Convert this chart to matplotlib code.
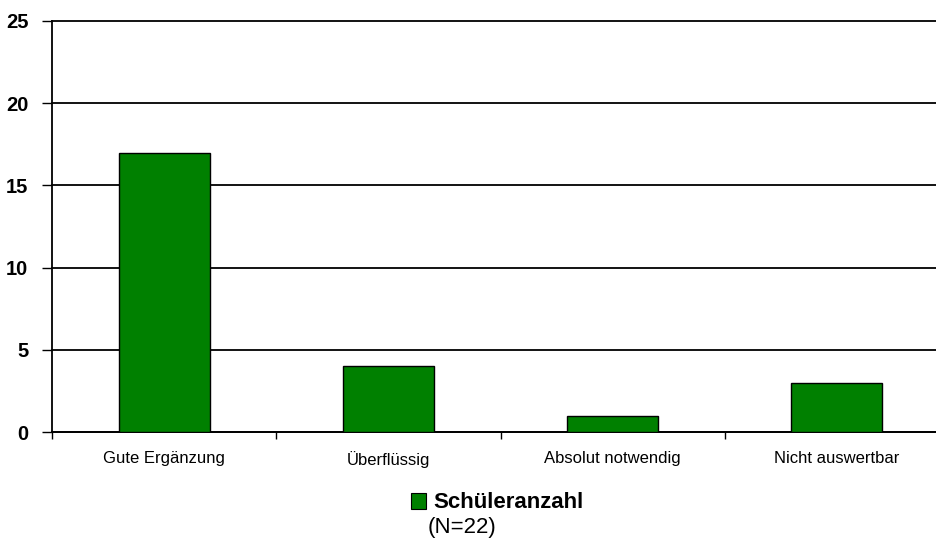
import matplotlib
matplotlib.use("Agg")
import matplotlib.pyplot as plt
from matplotlib.patches import Patch

categories = ["Gute Ergänzung", "Überflüssig", "Absolut notwendig", "Nicht auswertbar"]
values = [17, 4, 1, 3]
yticks = [0, 5, 10, 15, 20, 25]
series_name = "Schüleranzahl"
note = "(N=22)"

plt.rcParams['font.family'] = ['Liberation Sans', 'DejaVu Sans']

fig = plt.figure(figsize=(9.36, 5.4), dpi=100)
W, H = 936, 540
left, right, top, bottom = 52, 949, 21, 432
ax = fig.add_axes([left / W, 1 - bottom / H, (right - left) / W, (bottom - top) / H])

x = list(range(len(categories)))
ax.bar(x, values, width=0.405, color="#008000", edgecolor="black", linewidth=1.0, zorder=3)

ax.set_xlim(-0.5, len(categories) - 0.5)
ax.set_ylim(0, 25)
ax.set_yticks(yticks)
ax.set_yticklabels([str(v) for v in yticks], fontsize=14.5, fontweight="bold")
ax.yaxis.grid(True, color="black", linewidth=1.3, zorder=0)
for gl in ax.get_ygridlines():
    gl.set_clip_on(False)
ax.set_axisbelow(True)

ax.set_xticks([i - 0.5 for i in range(len(categories) + 1)])
ax.set_xticklabels([""] * (len(categories) + 1))
ax.set_xticks(x, minor=True)
ax.set_xticklabels(categories, minor=True, fontsize=12)
ax.tick_params(axis="x", which="minor", length=0, pad=14)
ax.tick_params(axis="x", which="major", length=5, width=1, direction="out")
ax.tick_params(axis="y", which="major", length=7, width=1, direction="out", pad=10)

for s in ["right", "top"]:
    ax.spines[s].set_visible(False)
for s in ["left", "bottom"]:
    ax.spines[s].set_linewidth(1.3)

handle = Patch(facecolor="#008000", edgecolor="black", linewidth=0.8)
fig.legend([handle], [series_name], loc="center", bbox_to_anchor=(497 / W, 1 - 503 / H),
           frameon=False, prop={"weight": "bold", "size": 16},
           handlelength=0.7, handleheight=0.7, handletextpad=0.3)
fig.text(462 / W, 1 - 528 / H, note, fontsize=16, ha="center", va="center")

fig.savefig("out.png", dpi=100)
